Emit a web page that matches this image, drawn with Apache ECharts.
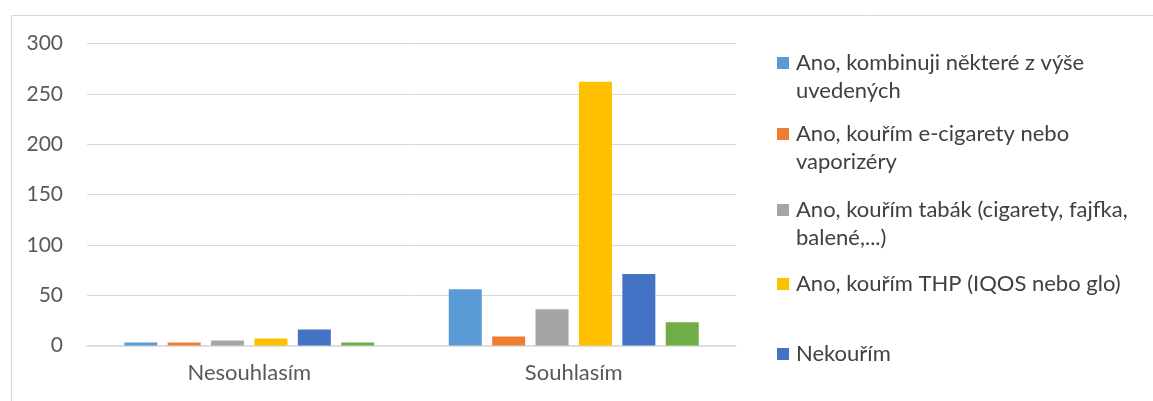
<!DOCTYPE html>
<html>
<head>
<meta charset="utf-8">
<script src="https://cdn.jsdelivr.net/npm/echarts@6/dist/echarts.min.js"></script>
<style>
  html, body { margin: 0; padding: 0; background: #ffffff; }
  #chart { width: 1153px; height: 401px; }
</style>
</head>
<body>
<div id="chart"></div>
<script>
// Survey answers grouped by agreement
const categories = ['Nesouhlasím', 'Souhlasím'];

const seriesNames = [
  'Ano, kombinuji některé z výše\nuvedených',
  'Ano, kouřím e-cigarety nebo\nvaporizéry',
  'Ano, kouřím tabák (cigarety, fajfka,\nbalené,...)',
  'Ano, kouřím THP (IQOS nebo glo)',
  'Nekouřím',
  'Ostatní'
];

const combined   = [3, 56];
const eCigarette = [3, 9];
const tobacco    = [5, 36];
const thp        = [7, 262];
const nonSmoker  = [16, 71];
const other      = [3, 23];

const yTicks = { min: 0, max: 300, step: 50 };

const seriesValues = [combined, eCigarette, tobacco, thp, nonSmoker, other];
const colors = ['#5B9BD5', '#ED7D31', '#A5A5A5', '#FFC000', '#4472C4', '#70AD47'];

const FONT = 'Lato';
const TEXT = '#595959';

// Legend rows: only the first five entries fit inside the frame
const legendRowCenters = [63, 134, 210, 284, 354];
const LINE_H = 28;
const ICON = 12;

const legends = legendRowCenters.map((cy, i) => {
  const lines = seriesNames[i].split('\n').length;
  // a blank leading line keeps the square level with the first text line
  const shown = lines > 1 ? 2 * lines - 1 : 1;
  const boxH = shown * LINE_H;
  return {
    data: [seriesNames[i]],
    orient: 'vertical',
    left: 777,
    top: cy - boxH / 2,
    padding: 0,
    itemWidth: ICON,
    itemHeight: ICON,
    icon: 'rect',
    selectedMode: false,
    formatter: name => (lines > 1 ? '\n'.repeat(lines - 1) + name : name),
    textStyle: {
      fontFamily: FONT,
      fontSize: 22,
      color: '#404040',
      lineHeight: LINE_H,
      padding: [0, 0, 0, 2]
    }
  };
});

const chart = echarts.init(document.getElementById('chart'), null, { renderer: 'canvas' });

chart.setOption({
  backgroundColor: '#ffffff',
  animation: false,
  graphic: [{
    type: 'rect',
    shape: { x: 11.5, y: 15.5, width: 1300, height: 600 },
    style: { fill: 'none', stroke: '#d9d9d9', lineWidth: 1 },
    silent: true,
    z: -1
  }],
  legend: legends,
  grid: { left: 87, right: 417, top: 43.5, bottom: 55.5 },
  xAxis: {
    type: 'category',
    data: categories,
    axisLine: { lineStyle: { color: '#d9d9d9', width: 1.5 } },
    axisTick: { show: false },
    axisLabel: { fontFamily: FONT, fontSize: 22, color: TEXT, margin: 16 }
  },
  yAxis: {
    type: 'value',
    min: yTicks.min,
    max: yTicks.max,
    interval: yTicks.step,
    axisLine: { show: false },
    axisTick: { show: false },
    splitLine: { lineStyle: { color: '#d9d9d9', width: 1 } },
    axisLabel: { fontFamily: FONT, fontSize: 21, color: TEXT, margin: 24 }
  },
  series: seriesValues.map((vals, i) => ({
    name: seriesNames[i],
    type: 'bar',
    data: vals,
    barWidth: 33,
    barGap: '31.5%',
    itemStyle: { color: colors[i] }
  }))
});
</script>
</body>
</html>
